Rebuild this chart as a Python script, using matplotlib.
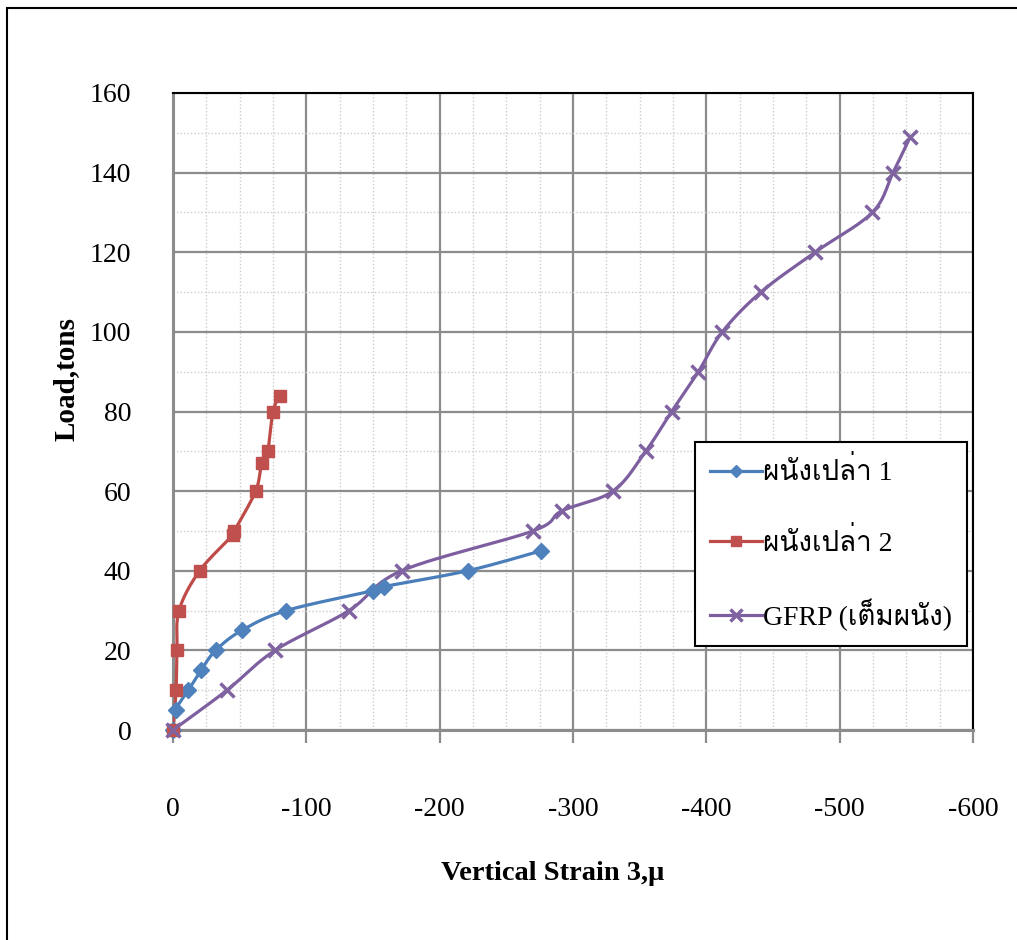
import numpy as np
import matplotlib
matplotlib.use("Agg")
import matplotlib.pyplot as plt
from matplotlib import font_manager
from matplotlib.ft2font import FT2Font
from matplotlib.lines import Line2D
from matplotlib.patches import Rectangle

# Vertical strain (micro-strain) vs. load (tons)
strain_wall1 = [0, -2, -11.5, -21, -32, -51.5, -85, -150, -158, -221, -276]
load_wall1 = [0, 5, 10, 15, 20, 25, 30, 35, 36, 40, 45]

strain_wall2 = [0, -2.3, -3, -4.5, -20, -45, -46, -62, -66.5, -71, -75, -80]
load_wall2 = [0, 10, 20, 30, 40, 49, 50, 60, 67, 70, 80, 84]

strain_gfrp = [0, -40.5, -76.5, -132, -171.5, -270, -291.5, -330, -354.5,
               -374, -394, -412, -441, -481.5, -524.5, -540, -553]
load_gfrp = [0, 10, 20, 30, 40, 50, 55, 60, 70, 80, 90, 100, 110, 120,
             130, 140, 149]

labels = ["ผนังเปล่า 1", "ผนังเปล่า 2", "GFRP (เต็มผนัง)"]
x_ticks = [0, -100, -200, -300, -400, -500, -600]
y_ticks = [0, 20, 40, 60, 80, 100, 120, 140, 160]


def thai_family():
    for f in font_manager.fontManager.ttflist:
        try:
            cmap = FT2Font(f.fname).get_charmap()
        except Exception:
            continue
        if 0x0E1C in cmap and 0x0E31 in cmap and 0x0E48 in cmap:
            return f.name
    return None


def smooth(xs, ys, n=30):
    """Cardinal (Catmull-Rom style) Bezier smoothing through the points."""
    p = np.column_stack([xs, ys]).astype(float)
    out = [p[0]]
    t = np.linspace(0, 1, n)[1:, None]
    for i in range(len(p) - 1):
        p0 = p[i - 1] if i > 0 else p[i]
        p1, p2 = p[i], p[i + 1]
        p3 = p[i + 2] if i + 2 < len(p) else p[i + 1]
        c1 = p1 + (p2 - p0) / 6.0
        c2 = p2 - (p3 - p1) / 6.0
        seg = ((1 - t) ** 3) * p1 + 3 * ((1 - t) ** 2) * t * c1 \
            + 3 * (1 - t) * t ** 2 * c2 + t ** 3 * p2
        out.extend(seg)
    out = np.array(out)
    return out[:, 0], out[:, 1]


plt.rcParams["axes.unicode_minus"] = False
serif = "Liberation Serif"
thai = thai_family()
legend_family = [serif] + ([thai] if thai else []) + ["DejaVu Sans"]

W, H = 1017, 940
fig = plt.figure(figsize=(W / 100, H / 100), dpi=100)
ax = fig.add_axes([173 / W, 1 - 730 / H, 800 / W, 637 / H])

# outer chart border
fig.patches.append(Rectangle((7 / W, -0.05), 1.1, 1 - 8 / H + 0.05,
                             transform=fig.transFigure, fill=False,
                             edgecolor="black", linewidth=1.5, zorder=0))

series = [
    (strain_wall1, load_wall1, "#4A7EBB", "D", "#4F81BD", 8),
    (strain_wall2, load_wall2, "#BE4B48", "s", "#C0504D", 8),
    (strain_gfrp, load_gfrp, "#7D5FA0", "x", "#8064A2", 10),
]
for xs, ys, lc, mk, mc, ms in series:
    sx, sy = smooth(xs, ys)
    ax.plot(sx, sy, color=lc, linewidth=2.3, zorder=3)
    ax.plot(xs, ys, linestyle="none", marker=mk, markersize=ms,
            markerfacecolor=mc, markeredgecolor=mc,
            markeredgewidth=2.5 if mk == "x" else 1, zorder=4, clip_on=False)

ax.set_xlim(0, -600)
ax.set_ylim(0, 160)
ax.set_xticks(x_ticks)
ax.set_yticks(y_ticks)
ax.set_xticks(np.arange(0, -601, -25), minor=True)
ax.set_yticks(np.arange(0, 161, 10), minor=True)
ax.set_xticklabels([str(v) for v in x_ticks])
ax.set_yticklabels([str(v) for v in y_ticks])

ax.grid(which="major", color="#8c8c8c", linewidth=1.6, zorder=1)
ax.grid(which="minor", color="#cccccc", linewidth=1.0, linestyle=(0, (1, 1.5)),
        zorder=1)
ax.set_axisbelow(True)

for s in ["top", "right"]:
    ax.spines[s].set_color("black")
    ax.spines[s].set_linewidth(1.5)
for s in ["left", "bottom"]:
    ax.spines[s].set_color("#8c8c8c")
    ax.spines[s].set_linewidth(2.2)

ax.tick_params(axis="x", which="major", direction="out", length=9, width=1.6,
               color="#8c8c8c", pad=39, labelsize=20)
ax.tick_params(axis="y", which="major", length=0, pad=30, labelsize=20)
ax.tick_params(which="minor", length=0)
for lab in ax.get_xticklabels() + ax.get_yticklabels():
    lab.set_family(serif)

ax.set_xlabel("Vertical Strain 3,\u03bc", family=serif, fontsize=20.5,
              fontweight="bold")
ax.xaxis.set_label_coords((553 - 173) / 800, -(873 - 730) / 637)
ax.xaxis.label.set_va("center")
ax.set_ylabel("Load,tons", family=serif, fontsize=21, fontweight="bold")
ax.yaxis.set_label_coords((66 - 173) / 800, (730 - 379) / 637)
ax.yaxis.label.set_va("center")

handles = [
    Line2D([], [], color="#4A7EBB", linewidth=2.3, marker="D", markersize=6.5,
           markerfacecolor="#4F81BD", markeredgecolor="#4F81BD"),
    Line2D([], [], color="#BE4B48", linewidth=2.3, marker="s", markersize=7,
           markerfacecolor="#C0504D", markeredgecolor="#C0504D"),
    Line2D([], [], color="#7D5FA0", linewidth=2.3, marker="x", markersize=8,
           markeredgewidth=2.5, markeredgecolor="#8064A2"),
]
leg = ax.legend(handles, labels, loc="upper left",
                bbox_to_anchor=((695 - 173) / 800, (730 - 442) / 637),
                prop={"family": legend_family, "size": 20},
                frameon=True, fancybox=False, framealpha=1,
                edgecolor="black", handlelength=1.85, handletextpad=0.05,
                labelspacing=1.5, borderpad=0.55, borderaxespad=0)
leg.get_frame().set_linewidth(1.5)
leg.set_zorder(5)

fig.savefig("out.png", dpi=100)
